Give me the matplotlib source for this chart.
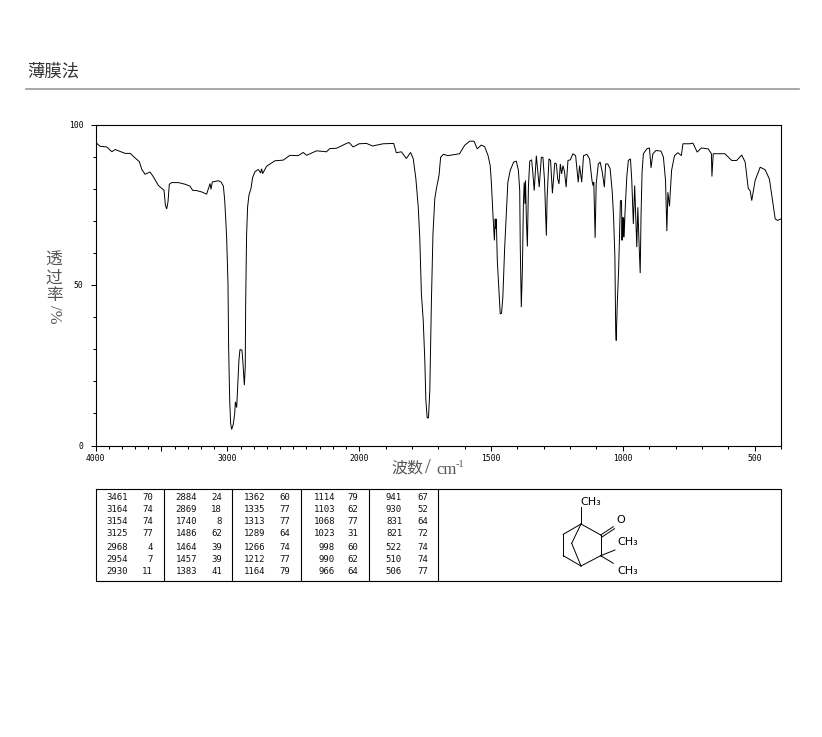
import numpy as np
import matplotlib
matplotlib.use('Agg')
import matplotlib.pyplot as plt

CJK = ['Noto Sans CJK SC', 'DejaVu Sans']

# spectrum: wavenumber, transmittance
wavenumber = [4000,3965,3914,3876,3851,3813,3775,3737,3700,3667,3649,3624,3586,3561,3523,3480,3470,3460,3450,3440,
    3422,3371,3321,3283,3263,3232,3195,3157,3131,3124,3114,3068,3048,3030,3020,3013,3005,2995,2990,2982,
    2975,2967,2955,2944,2939,2929,2922,2912,2904,2889,2881,2871,2864,2861,2854,2846,2836,2821,2808,2790,
    2765,2747,2740,2732,2702,2639,2576,2525,2462,2424,2399,2323,2248,2222,2172,2096,2076,2046,2000,
    1972,1949,1909,1869,1859,1840,1821,1805,1795,1785,1776,1770,1764,1757,1751,1747,1742,1737,1732,1729,
    1726,1720,1713,1707,1697,1691,1681,1663,1619,1600,1581,1564,1552,1537,1524,1511,1503,1499,1492,1487,
    1484,1482,1480,1476,1470,1465,1460,1455,1448,1442,1436,1427,1414,1404,1396,1391,1389,1385,1381,1377,
    1374,1371,1369,1366,1362,1358,1353,1346,1342,1336,1328,1323,1317,1309,1303,1297,1290,1287,1280,1274,
    1267,1258,1252,1247,1242,1237,1232,1227,1221,1215,1208,1199,1189,1179,1169,1164,1156,1149,1136,1126,
    1117,1113,1110,1105,1101,1093,1086,1078,1070,1065,1057,1048,1040,1035,1030,1027,1025,1021,1016,1009,
    1005,1003,1001,999,997,995,992,985,979,971,966,960,955,947,943,938,934,931,927,922,
    909,899,893,886,874,855,846,838,833,829,823,815,804,791,778,772,746,734,718,702,
    676,664,662,657,613,587,568,549,536,524,517,511,498,479,460,444,434,422,413,400]
transmittance = [94.5,93.2,93.0,91.5,92.2,91.6,91.0,91.0,89.6,88.4,86.0,84.5,85.2,83.7,81.0,79.5,74.9,73.7,75.9,81.4,
    81.9,81.9,81.4,80.8,79.5,79.4,79.0,78.3,81.6,79.8,82.1,82.5,82.1,80.8,76.4,71.2,64.5,50.5,30.2,14.1,
    6.9,5.0,6.6,10.0,13.6,11.8,17.8,26.6,29.9,29.7,25.5,18.8,24.5,43.7,65.5,74.4,78.0,80.0,83.5,85.3,
    86.0,84.9,86.2,84.7,87.0,88.7,88.9,90.4,90.3,91.3,90.4,91.8,91.5,92.5,92.6,94.1,94.4,93.0,94.0,
    94.1,93.3,94.0,94.1,91.2,91.5,89.4,91.3,89.4,83.2,74.4,64.5,47.4,39.0,26.6,14.1,8.6,8.6,17.2,30.7,
    44.8,66.0,77.0,80.0,84.2,89.8,90.7,90.3,90.9,93.5,94.8,94.8,92.4,93.6,93.1,90.3,87.2,82.6,71.1,63.9,
    70.6,67.5,70.6,57.6,48.3,41.0,41.2,46.2,61.8,72.2,82.0,85.7,88.3,88.6,85.7,79.4,62.3,43.1,54.5,75.3,
    82.0,75.3,82.6,71.1,62.0,80.5,88.6,89.0,85.7,79.4,90.3,85.7,80.5,89.8,89.8,82.6,65.4,77.4,89.3,88.8,
    78.6,88.0,87.7,83.1,81.5,87.7,84.6,87.2,85.2,80.5,88.8,89.0,90.9,90.3,82.0,87.2,82.0,90.3,90.7,89.3,
    82.6,81.0,82.0,64.7,81.5,87.7,88.3,85.2,80.5,87.7,87.7,86.2,78.9,71.1,58.7,35.8,32.7,44.1,54.5,76.3,
    76.3,63.9,71.1,64.9,71.1,64.9,72.0,83.6,88.8,89.3,82.6,69.0,81.0,61.8,74.2,62.0,53.7,71.1,85.0,90.9,
    92.4,92.7,86.5,90.9,91.9,91.7,89.8,82.6,66.8,78.9,74.5,85.7,90.3,91.2,90.3,94.0,94.0,94.2,91.4,92.7,
    92.4,90.9,83.8,90.9,90.9,88.8,88.8,90.5,88.3,80.0,79.4,76.3,82.6,86.7,85.9,83.0,77.4,70.6,70.1,70.6]

# peak table, one list per column block
table_wn = [
    [3461,3164,3154,3125,2968,2954,2930],
    [2884,2869,1740,1486,1464,1457,1383],
    [1362,1335,1313,1289,1266,1212,1164],
    [1114,1103,1068,1023,998,990,966],
    [941,930,831,821,522,510,506],
]
table_t = [
    [70,74,74,77,4,7,11],
    [24,18,8,62,39,39,41],
    [60,77,77,64,74,77,79],
    [79,62,77,31,60,62,64],
    [67,52,64,72,74,74,77],
]

x_major = [4000, 3500, 3000, 2000, 1500, 1000, 500]
x_labels = ['4000', '', '3000', '2000', '1500', '1000', '500']
y_major = [0, 50, 100]


# 2000 cm-1 이하에서 축 스케일이 두 배 (must increase with x, the limits do the flip)
def forward(x):
    x = np.asarray(x, dtype=float)
    return np.where(x >= 2000, x, 2 * x - 2000)


def inverse(p):
    p = np.asarray(p, dtype=float)
    return np.where(p >= 2000, p, (p + 2000) / 2)


fig = plt.figure(figsize=(8.22, 7.37), dpi=100, facecolor='white')
W, H = 822, 737

ax = fig.add_axes([95.5 / W, (H - 445.5) / H, 685.5 / W, 321 / H])
ax.set_xscale('function', functions=(forward, inverse))
ax.set_xlim(4000, 400)
ax.set_ylim(0, 100)
ax.plot(wavenumber, transmittance, color='black', lw=0.7, solid_joinstyle='miter')

ax.set_xticks(x_major)
ax.set_xticklabels(x_labels, fontsize=5.8, family='DejaVu Sans Mono')
ax.set_xticks([w for w in range(4000, 399, -100) if w not in x_major], minor=True)
ax.set_yticks(y_major)
ax.set_yticklabels([str(v) for v in y_major], fontsize=5.8, family='DejaVu Sans Mono')
ax.set_yticks(range(0, 101, 10), minor=True)
ax.tick_params(which='major', length=3.8, width=0.75)
ax.tick_params(which='minor', length=2.2, width=0.75)
ax.tick_params(axis='x', which='major', pad=2)
ax.tick_params(axis='y', which='major', pad=5)
for s in ax.spines.values():
    s.set_linewidth(0.8)

# overlay in pixel coordinates for everything outside the plot
ov = fig.add_axes([0, 0, 1, 1], facecolor='none')
ov.set_xlim(0, W)
ov.set_ylim(H, 0)
ov.axis('off')

ov.text(27, 71.5, '薄膜法', family=CJK, fontsize=12.5, color='#333333', va='center')
ov.plot([26, 799], [88.5, 88.5], color='#999999', lw=1.2)

# y label, stacked
for label, y in zip(['透', '过', '率'], [260, 278, 295]):
    ov.text(54, y, label, family=CJK, fontsize=12, color='#555555', ha='center', va='center')
ov.text(54, 314, '/%', family='Liberation Serif', fontsize=12, color='#555555',
        rotation=270, ha='center', va='center')

# x label
ov.text(391, 468, '波数', family=CJK, fontsize=11.5, color='#555555', va='center')
ov.text(425, 468, '/', family='Liberation Serif', fontsize=15, color='#555555', va='center')
ov.text(436, 470, 'cm', family='Liberation Serif', fontsize=12, color='#555555', va='center')
ov.text(456, 464.5, '-1', family='Liberation Serif', fontsize=7.5, color='#555555', va='center')

# peak table
ov.plot([95.5, 781, 781, 95.5, 95.5], [489, 489, 581, 581, 489], color='black', lw=0.8)
for xd in [164, 232, 301, 369, 438]:
    ov.plot([xd, xd], [489, 581], color='black', lw=0.8)
rows_y = [497, 509.5, 522, 534, 547, 559, 572]
wn_right = [128, 197, 265, 335, 402]
t_right = [153, 222, 290, 358, 428]
for c in range(5):
    for r in range(7):
        ov.text(wn_right[c], rows_y[r], str(table_wn[c][r]), family='DejaVu Sans Mono', fontsize=6.5,
                ha='right', va='center', color='#111111')
        ov.text(t_right[c], rows_y[r], str(table_t[c][r]), family='DejaVu Sans Mono', fontsize=6.5,
                ha='right', va='center', color='#111111')

# structure drawing
bonds = [
    ((581, 524), (581, 507)), ((581, 524), (600.7, 535)), ((600.7, 535), (600.7, 555.7)),
    ((600.7, 555.7), (581, 566)), ((581, 566), (563.3, 555.7)), ((563.3, 555.7), (563.3, 534.3)),
    ((563.3, 534.3), (581, 524)), ((581, 524), (571.7, 543.3)), ((571.7, 543.3), (581, 566)),
    ((600.7, 535), (613.3, 526.7)), ((602, 537), (614.5, 528.7)),
    ((600.7, 555.7), (615, 550)), ((600.7, 555.7), (613.3, 563.3)),
]
for a, b in bonds:
    ov.plot([a[0], b[0]], [a[1], b[1]], color='black', lw=0.7)
atoms = [('CH₃', 580, 502, 'left'), ('O', 620.5, 520, 'center'), ('CH₃', 617, 542, 'left'), ('CH₃', 617, 571, 'left')]
for t, x, y, ha in atoms:
    ov.text(x, y, t, fontsize=8, ha=ha, va='center', color='black')

fig.savefig('out.png', dpi=100)
